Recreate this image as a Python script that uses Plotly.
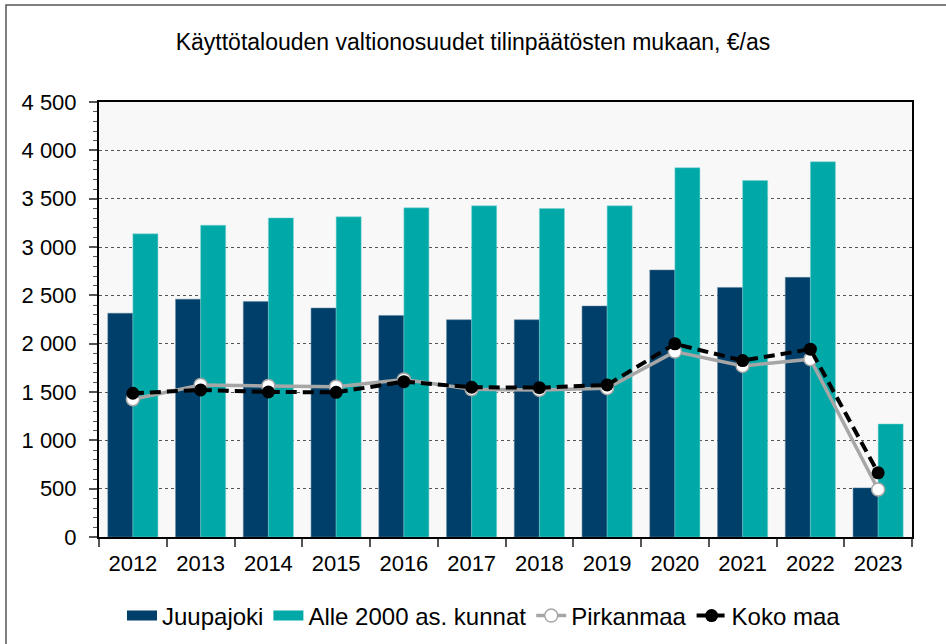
import plotly.graph_objects as go

years = ["2012", "2013", "2014", "2015", "2016", "2017", "2018", "2019", "2020", "2021", "2022", "2023"]
juupajoki = [2315, 2460, 2435, 2368, 2292, 2247, 2247, 2389, 2762, 2582, 2686, 508]
alle2000 = [3136, 3225, 3301, 3312, 3405, 3426, 3398, 3426, 3820, 3688, 3882, 1169]
pirkanmaa = [1425, 1573, 1563, 1555, 1630, 1528, 1521, 1539, 1918, 1770, 1839, 491]
kokomaa = [1487, 1521, 1500, 1497, 1607, 1549, 1545, 1573, 1998, 1825, 1943, 664]

yticks = [0, 500, 1000, 1500, 2000, 2500, 3000, 3500, 4000, 4500]
yticktext = ["0", "500", "1 000", "1 500", "2 000", "2 500", "3 000", "3 500", "4 000", "4 500"]

title_text = "Käyttötalouden valtionosuudet tilinpäätösten mukaan, €/as"

FONT = "Liberation Sans, Arial, sans-serif"
C_J = "#003F6A"
C_A = "#00A9A8"
C_P = "#A6A6A6"

fig = go.Figure()
fig.add_trace(go.Bar(x=years, y=juupajoki, name="Juupajoki", showlegend=False, legendgroup="j",
                     marker=dict(color=C_J, line=dict(color="#5a7f9c", width=0.5))))
fig.add_trace(go.Bar(x=years, y=alle2000, name="Alle 2000 as. kunnat", showlegend=False, legendgroup="a",
                     marker=dict(color=C_A, line=dict(color="#7fd4d3", width=0.5))))
# legend swatches (wide rectangles like the original)
fig.add_trace(go.Scatter(x=[None], y=[None], name="Juupajoki", mode="lines", legendgroup="j",
                         line=dict(color=C_J, width=13)))
fig.add_trace(go.Scatter(x=[None], y=[None], name="Alle 2000 as. kunnat", mode="lines", legendgroup="a",
                         line=dict(color=C_A, width=13)))
fig.add_trace(go.Scatter(x=years, y=pirkanmaa, name="Pirkanmaa", mode="lines+markers",
                         line=dict(color=C_P, width=3.5),
                         marker=dict(color="white", size=13, line=dict(color=C_P, width=1.5))))
fig.add_trace(go.Scatter(x=years, y=kokomaa, name="Koko maa", mode="lines+markers",
                         line=dict(color="black", width=4, dash="11px,6px"),
                         marker=dict(color="black", size=13)))

W, H = 946, 644
L, R, T, B = 99, 912, 102, 537
pw, ph = R - L, B - T

fig.update_layout(
    width=W, height=H,
    margin=dict(l=L, r=W - R, t=T, b=H - B, pad=0, autoexpand=False),
    paper_bgcolor="white",
    plot_bgcolor="#F8F8F8",
    font=dict(family=FONT, size=22, color="black"),
    barmode="group", bargap=0.26, bargroupgap=0,
    title=dict(text=title_text, x=0.5, xanchor="center", y=1 - 42 / H, yanchor="middle",
               font=dict(size=23, family=FONT, color="black")),
    showlegend=True,
    legend=dict(orientation="h", xref="container", x=484 / W, xanchor="center",
                yref="container", y=1 - 616 / H, yanchor="middle",
                font=dict(size=24), tracegroupgap=0, bgcolor="rgba(0,0,0,0)"),
    shapes=[dict(type="rect", xref="paper", yref="paper",
                 x0=(6 - L) / pw, x1=(W + 20 - L) / pw,
                 y0=(B - (H + 20)) / ph, y1=(B - 5) / ph,
                 line=dict(color="#555555", width=1.5), fillcolor="rgba(0,0,0,0)", layer="below")],
)

fig.update_xaxes(type="category", range=[-0.5, len(years) - 0.5],
                 showline=True, linecolor="black", linewidth=2, mirror=True,
                 ticks="outside", tickson="boundaries", ticklen=8, tickcolor="#555555", tickwidth=1.5,
                 showgrid=False, tickfont=dict(size=22), automargin=False, ticklabelstandoff=6)
fig.update_yaxes(range=[0, 4500], tickvals=yticks, ticktext=yticktext,
                 showline=True, linecolor="black", linewidth=2, mirror=True,
                 ticks="outside", ticklen=8, tickcolor="#555555", tickwidth=1.5,
                 minor=dict(dtick=100, ticks="outside", ticklen=4, tickcolor="#555555", tickwidth=1, showgrid=False),
                 showgrid=True, gridcolor="#555555", gridwidth=1, griddash="dot",
                 zeroline=False, tickfont=dict(size=22), automargin=False, ticklabelstandoff=8)

fig.write_html("out.html", config={"displayModeBar": False},
               post_script="document.body.style.margin='0';document.body.style.overflow='hidden';")
